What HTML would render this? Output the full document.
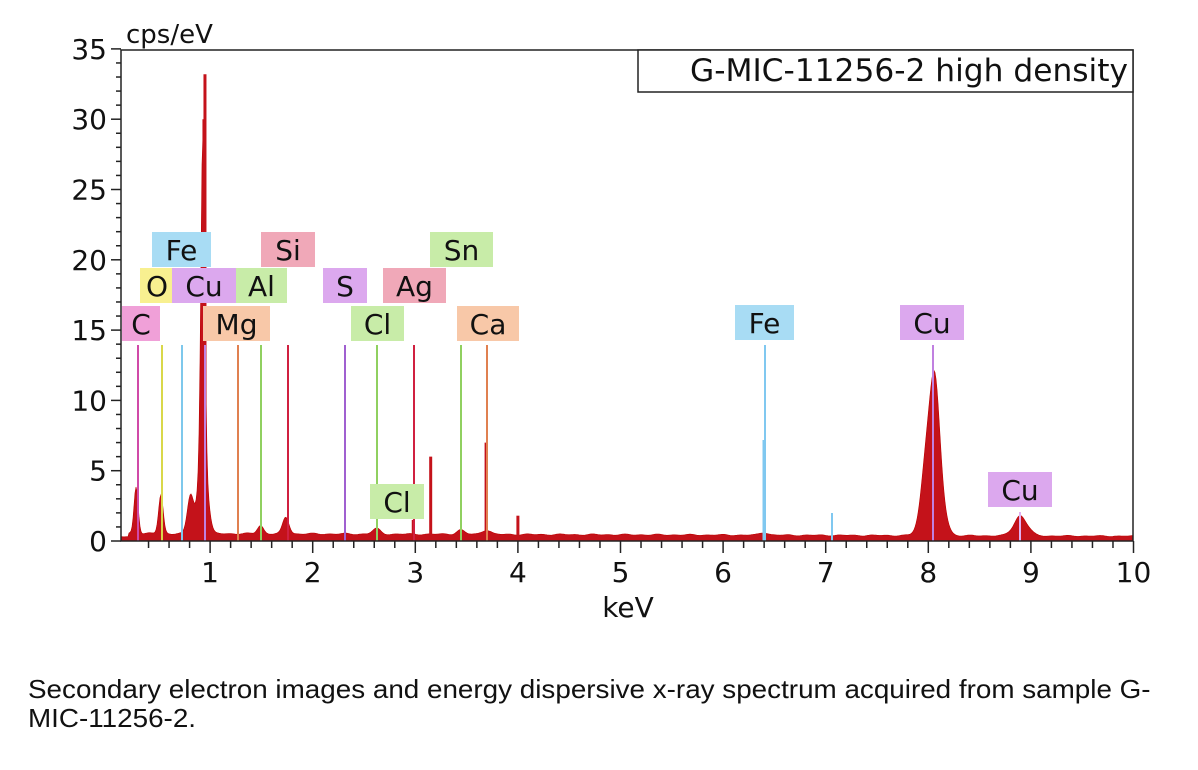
<!DOCTYPE html>
<html><head><meta charset="utf-8"><style>
body{margin:0;background:#fff;width:1198px;height:770px;overflow:hidden}
svg{position:absolute;left:0;top:0}
.t{font-family:"DejaVu Sans","Liberation Sans",sans-serif;fill:#111}
.cap{position:absolute;left:28px;top:675px;font-family:"Liberation Sans",Arial,sans-serif;font-size:26px;line-height:29px;color:#111;white-space:nowrap;transform-origin:0 0;transform:scaleX(1.07)}
</style></head><body>
<svg id="s" width="1198" height="770" xmlns="http://www.w3.org/2000/svg"></svg>
<div class="cap">Secondary electron images and energy dispersive x-ray spectrum acquired from sample G-<br>MIC-11256-2.</div>
<script>
const X=k=>107.5+102.6*k, Y=v=>541-14.06*v;
let h='';
function f(k){
 let v=0.55-0.02*k;
 if(k<0.2)v=0.3;
 const g=(c,a,w)=>a*Math.exp(-((k-c)*(k-c))/(2*w*w));
 v+=g(0.28,3.5,0.02)+g(0.52,2.7,0.022)+g(0.81,2.8,0.03)+g(0.93,24,0.018)+g(0.93,7,0.04)+g(1.49,0.6,0.03)+g(1.74,1.2,0.03)+g(2.62,0.35,0.04)+g(3.44,0.3,0.04)+g(3.69,0.35,0.04)+g(6.4,0.2,0.04)+g(8.04,11.5,0.07)+g(8.9,1.45,0.065);
 v*=1+0.12*Math.sin(k*937.1)*Math.sin(k*331.7);
 return v;
}
let p='M121,541';
for(let x=121;x<=1133;x+=1){const k=(x-107.5)/102.6;p+=' L'+x+','+Y(f(k)).toFixed(1);}
p+=' L1133,541 Z';
h+='<path d="'+p+'" fill="#c4121a" stroke="#b00" stroke-width="0.6"/>';
[[3.15,6],[4.0,1.8],[3.69,7],[2.98,1.5],[0.95,33.2],[0.94,30]].forEach(([k,v])=>{h+=`<line x1="${X(k)}" y1="541" x2="${X(k)}" y2="${Y(v)}" stroke="#c4121a" stroke-width="3"/>`});
const ml=[[138,'#d04aa8'],[162,'#d9d84a'],[182,'#7ec8ec'],[205,'#c080e0'],[238,'#e08050'],[261,'#90d060'],[288,'#d02040'],[345,'#a060d0'],[377,'#90d060'],[414,'#d02040'],[461,'#90d060'],[487,'#e08050'],[765,'#80c8f0'],[933,'#c080e0']];
ml.forEach(([x,c])=>{h+=`<line x1="${x}" y1="345" x2="${x}" y2="541" stroke="${c}" stroke-width="2"/>`});
h+=`<line x1="1020" y1="512" x2="1020" y2="541" stroke="#e0b0f0" stroke-width="2"/><line x1="832" y1="513" x2="832" y2="541" stroke="#80c8f0" stroke-width="2"/><line x1="764" y1="440" x2="764" y2="541" stroke="#80c8f0" stroke-width="3"/>`;
h+='<rect x="121" y="50" width="1012" height="491" fill="none" stroke="#222" stroke-width="1.5"/>';
for(let v=0;v<=35;v++){const y=Y(v),mj=v%5==0;h+=`<line x1="${mj?111:116}" y1="${y}" x2="121" y2="${y}" stroke="#222" stroke-width="1.5"/>`;if(mj)h+=`<text class="t" x="107" y="${y+10}" font-size="28" text-anchor="end">${v}</text>`;}
for(let i=2;i<=50;i++){const k=i/5,x=X(k),mj=i%5==0;h+=`<line x1="${x}" y1="541" x2="${x}" y2="${mj?553:548}" stroke="#222" stroke-width="1.5"/>`;if(mj)h+=`<text class="t" x="${x}" y="582" font-size="28" text-anchor="middle">${k}</text>`;}
h+='<text class="t" x="126" y="43" font-size="26">cps/eV</text>';
h+='<text class="t" x="628" y="617" font-size="28" text-anchor="middle">keV</text>';
h+='<rect x="638" y="50" width="495" height="42" fill="#fff" stroke="#222" stroke-width="1.5"/><text class="t" x="1128" y="81" font-size="31" text-anchor="end" textLength="438" lengthAdjust="spacingAndGlyphs">G-MIC-11256-2 high density</text>';
const L=[['C',122,306,38,'#f0a0d8'],['O',140,268,34,'#f8f090'],['Cu',172,268,64,'#dca8ee'],['Fe',152,232,59,'#a8dcf4'],['Al',236,268,51,'#c8eca8'],['Mg',203,306,67,'#f8c8a8'],['Si',261,232,54,'#f0a8b8'],['S',323,268,44,'#dca8ee'],['Ag',383,268,63,'#f0a8b8'],['Cl',351,306,53,'#c8eca8'],['Sn',430,232,63,'#c8eca8'],['Ca',457,306,62,'#f8c8a8'],['Cl',370,484,54,'#c8eca8'],['Fe',735,305,59,'#a8dcf4'],['Cu',900,305,64,'#dca8ee'],['Cu',988,472,64,'#dca8ee']];
L.forEach(([t,x,y,w,c])=>{h+=`<rect x="${x}" y="${y}" width="${w}" height="35" fill="${c}"/><text class="t" x="${x+w/2}" y="${y+28}" font-size="28" text-anchor="middle">${t}</text>`});
document.getElementById('s').innerHTML=h;
</script>
</body></html>
